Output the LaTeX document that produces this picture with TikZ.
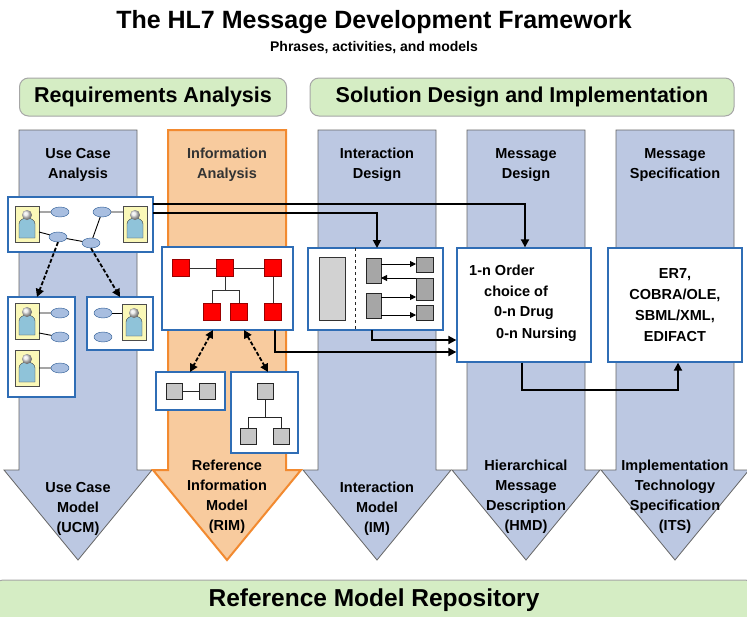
\documentclass[tikz,border=0pt]{standalone}
\usepackage{fontspec}
\setmainfont{Liberation Sans}
\usetikzlibrary{arrows.meta,shapes.geometric}
\definecolor{colblue}{HTML}{BCC8E2}
\definecolor{colorange}{HTML}{F8CB9E}
\definecolor{orangeb}{HTML}{F28A30}
\definecolor{greenb}{HTML}{D5EDC4}
\definecolor{boxb}{HTML}{2F6DB5}
\definecolor{persy}{HTML}{FAF8B8}
\definecolor{persb}{HTML}{8FC3D9}
\definecolor{ellb}{HTML}{A8BEE0}
\tikzset{
  colarrow/.style={fill=colblue,draw=gray!80!black,line width=0.8pt},
  greenbar/.style={fill=greenb,draw=gray!70,rounded corners=9pt,line width=1pt},
  wbox/.style={fill=white,draw=boxb,line width=1.3pt},
  conn/.style={draw=black,line width=1.8pt,-{Triangle[length=8pt,width=8pt]}},
  dconn/.style={draw=black,line width=1.8pt,dash pattern=on 4pt off 2pt,-{Triangle[length=8pt,width=8pt]}},
  ddconn/.style={draw=black,line width=1.8pt,dash pattern=on 4pt off 2pt,{Triangle[length=8pt,width=8pt]}-{Triangle[length=8pt,width=8pt]}},
  lbl/.style={font=\bfseries\fontsize{14.5}{16}\selectfont,align=center,inner sep=0pt},
  mtxt/.style={font=\bfseries\fontsize{14.5}{16}\selectfont,anchor=west,inner sep=0pt},
  redsq/.style={fill=red,draw=red!60!black,minimum size=17pt,inner sep=0pt},
  graysq/.style={fill=gray!45,draw=gray!30!black,minimum size=16pt,inner sep=0pt},
  ell/.style={ellipse,fill=ellb,draw=boxb!80!black,minimum width=18pt,minimum height=10pt,inner sep=0pt},
  pers/.pic={
    \fill[persy,draw=gray!60!black] (-12,-18) rectangle (12,18);
    \fill[persb,draw=gray!50!black] (-8,14) -- (-8,0) to[out=90,in=180] (0,-6) to[out=0,in=90] (8,0) -- (8,14) -- cycle;
    \shade[ball color=gray!20] (0,-9) circle (5);
  }
}
\begin{document}
\begin{tikzpicture}[x=1pt,y=-1pt]
\useasboundingbox (0,0) rectangle (747,616);
\fill[white] (0,0) rectangle (747,616);
% title
\node[font=\bfseries\fontsize{25}{28}\selectfont,inner sep=0pt] (title) at (374,22) {The HL7 Message Development Framework};
\node[font=\bfseries\fontsize{14}{16}\selectfont,inner sep=0pt] (sub) at (374,48) {Phrases, activities, and models};
% column arrows
\foreach \x/\n in {78/c1,377/c3,526/c4,675/c5}{
  \draw[colarrow] (\x-59,130) -- (\x+59,130) -- (\x+59,470) -- (\x+74,470) -- (\x,560) -- (\x-74,470) -- (\x-59,470) -- cycle;
}
\draw[colarrow,fill=colorange,draw=orangeb,line width=2pt] (168,130) -- (286,130) -- (286,470) -- (301,470) -- (227,560) -- (153,470) -- (168,470) -- cycle;
% green bars
\node[greenbar,minimum width=267pt,minimum height=38pt,font=\bfseries\fontsize{21.5}{24}\selectfont] (ra) at (153,97) {Requirements Analysis};
\node[greenbar,minimum width=424pt,minimum height=38pt,font=\bfseries\fontsize{21.5}{24}\selectfont] (sd) at (522,97) {Solution Design and Implementation};
\node[greenbar,minimum width=760pt,minimum height=40pt,font=\bfseries\fontsize{24.5}{26}\selectfont] (rmr) at (374,600) {\raisebox{-3pt}{Reference Model Repository}};
% column labels
\node[lbl] at (78,165) {Use Case\\[4pt]Analysis};
\node[lbl,text=black!80] at (227,165) {Information\\[4pt]Analysis};
\node[lbl] at (377,165) {Interaction\\[4pt]Design};
\node[lbl] at (526,165) {Message\\[4pt]Design};
\node[lbl] at (675,165) {Message\\[4pt]Specification};
\node[lbl,anchor=north] at (78,482) {Use Case\\[4pt]Model\\[4pt](UCM)};
\node[lbl,anchor=north] at (227,460) {Reference\\[4pt]Information\\[4pt]Model\\[4pt](RIM)};
\node[lbl,anchor=north] at (377,482) {Interaction\\[4pt]Model\\[4pt](IM)};
\node[lbl,anchor=north] at (526,460) {Hierarchical\\[4pt]Message\\[4pt]Description\\[4pt](HMD)};
\node[lbl,anchor=north] at (675,460) {Implementation\\[4pt]Technology\\[4pt]Specification\\[4pt](ITS)};
% use case main box
\draw[wbox] (8,197) rectangle (153,252);
\coordinate (ucA) at (153,204); \coordinate (ucB) at (153,213);
\pic at (27,224) {pers}; \pic at (135,224) {pers};
\node[ell] (e1) at (60,212) {}; \node[ell] (e2) at (58,237) {};
\node[ell] (e3) at (102,212) {}; \node[ell] (e4) at (91,243) {};
\draw[line width=0.9pt] (39,212)--(e1) (39,232)--(e2) (e2)--(e4) (e4)--(e3) (e3)--(123,212);
% small box 1
\draw[wbox] (8,297) rectangle (75,397);
\pic at (27,321) {pers}; \pic at (27,368) {pers};
\node[ell] (f1) at (60,313) {}; \node[ell] (f2) at (60,337) {}; \node[ell] (f3) at (60,368) {};
\draw[line width=0.9pt] (39,313)--(f1) (39,333)--(f2) (39,368)--(f3);
% small box 2
\draw[wbox] (87,297) rectangle (153,350);
\pic at (134,322) {pers};
\node[ell] (g1) at (103,313) {}; \node[ell] (g2) at (103,337) {};
\draw[line width=0.9pt] (g1)--(122,313);
\coordinate (b1t) at (37,297); \coordinate (b2t) at (120,297);
\draw[dconn] (e2.south) -- (b1t);
\draw[dconn] (e4.south) -- (b2t);
% RIM box
\draw[wbox] (162,247) rectangle (293,330);
\draw[gray!40!black,line width=0.9pt] (181,268)--(273,268) (273,268)--(273,312) (225,268)--(225,290) (212,290)--(239,290) (212,290)--(212,312) (239,290)--(239,312);
\node[redsq] (r1) at (181,268) {}; \node[redsq] (r2) at (225,268) {}; \node[redsq] (r3) at (273,268) {};
\node[redsq] (r4) at (212,312) {}; \node[redsq] (r5) at (239,312) {}; \node[redsq] (r6) at (273,312) {};
% gray small boxes
\draw[wbox] (156,372) rectangle (225,410);
\node[graysq] (s1) at (174,391) {}; \node[graysq] (s2) at (207,391) {};
\draw[gray!30!black,line width=0.9pt] (s1)--(s2);
\draw[wbox] (231,372) rectangle (298,453);
\node[graysq] (t1) at (265,391) {}; \node[graysq] (t2) at (248,436) {}; \node[graysq] (t3) at (281,436) {};
\draw[gray!30!black,line width=0.9pt] (t1.south)--(265,417) (248,417)--(281,417) (248,417)--(t2.north) (281,417)--(t3.north);
\coordinate (rb1) at (213,330); \coordinate (rb2) at (244,330);
\coordinate (sa) at (190,372); \coordinate (sb) at (268,372);
\draw[ddconn] (rb1) -- (sa);
\draw[ddconn] (rb2) -- (sb);
% interaction box
\draw[wbox] (308,248) rectangle (443,330);
\fill[gray!35,draw=gray!40!black] (319,257) rectangle (345,320);
\draw[dashed,gray!30!black,line width=0.8pt] (355,248) -- (355,330);
\fill[gray!70,draw=gray!30!black] (366,258) rectangle (381,283);
\fill[gray!70,draw=gray!30!black] (366,293) rectangle (381,318);
\fill[gray!70,draw=gray!30!black] (416,257) rectangle (433,272);
\fill[gray!70,draw=gray!30!black] (416,278) rectangle (433,300);
\fill[gray!70,draw=gray!30!black] (416,305) rectangle (433,320);
\draw[line width=0.9pt,-{Triangle[length=6pt,width=6pt]}] (381,264) -- (416,264);
\draw[line width=0.9pt,-{Triangle[length=6pt,width=6pt]}] (416,278) -- (381,278);
\draw[line width=0.9pt,-{Triangle[length=6pt,width=6pt]}] (381,297) -- (416,297);
\draw[line width=0.9pt,-{Triangle[length=6pt,width=6pt]}] (381,315) -- (416,315);
% message box
\node[wbox,minimum width=134pt,minimum height=114pt,inner sep=0pt] (hmd) at (524,305) {};
\node[mtxt] at (469,270) {1-n Order};
\node[mtxt] at (484,291) {choice of};
\node[mtxt] at (494,313) {0-n Drug};
\node[mtxt] at (496,335) {0-n Nursing};
% ITS box
\node[wbox,minimum width=134pt,minimum height=114pt,align=center,font=\bfseries\fontsize{14.5}{21}\selectfont] (its) at (675,305) {ER7,\\COBRA/OLE,\\SBML/XML,\\EDIFACT};
% connectors
\coordinate (im) at (377,248);
\draw[conn] (ucA) -- (525,204) -- (hmd.north -| 525,0);
\draw[conn] (ucB) -- (377,213) -- (im);
\draw[conn] (275,330) -- (275,352) -- (hmd.west |- 0,352);
\draw[conn] (372,330) -- (372,340) -- (hmd.west |- 0,340);
\draw[conn] (hmd.south -| 522,0) -- (522,390) -- (678,390) -- (its.south -| 678,0);
\end{tikzpicture}
\end{document}
